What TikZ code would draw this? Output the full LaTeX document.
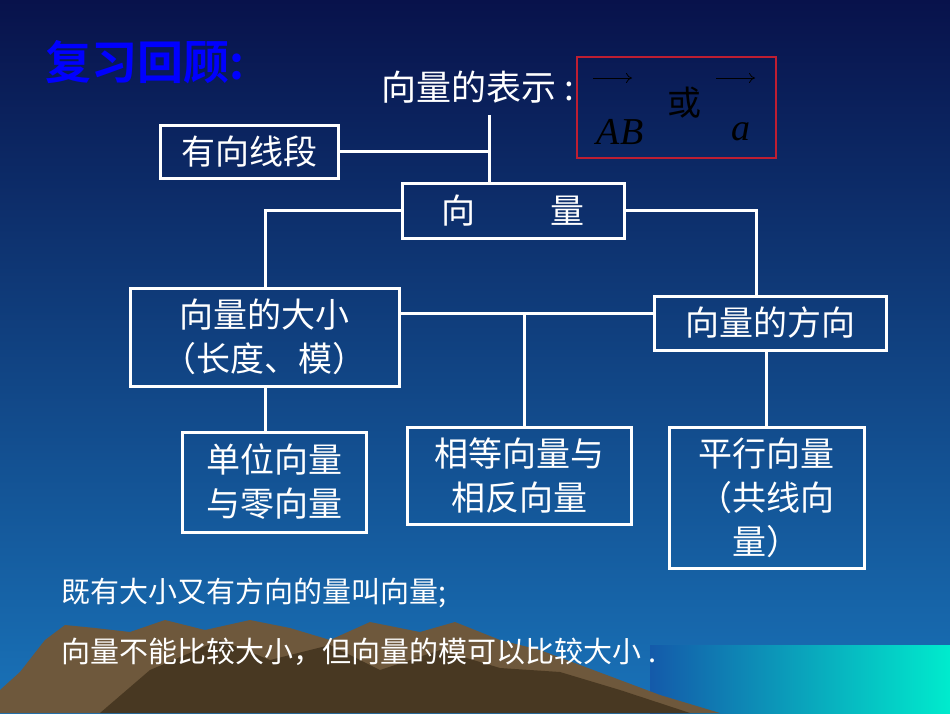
\documentclass[tikz,border=0pt]{standalone}
\usepackage{fontspec}
\newfontfamily\cjk{Noto Sans CJK SC}
\newfontfamily\cjkb{Noto Sans CJK SC Bold}
\newfontfamily\lati{Liberation Serif}
\usetikzlibrary{shadings,arrows.meta}
\definecolor{bgtop}{RGB}{8,18,75}
\definecolor{bgbot}{RGB}{25,115,185}
\definecolor{seal}{RGB}{20,90,170}
\definecolor{sear}{RGB}{0,235,205}
\definecolor{mnt}{RGB}{110,88,60}
\definecolor{mntd}{RGB}{72,56,34}
\definecolor{ttl}{RGB}{0,0,255}
\definecolor{rbox}{RGB}{190,30,50}
\begin{document}
\begin{tikzpicture}[x=1pt,y=-1pt,
  bx/.style={draw=white,line width=3pt,text=white,font=\cjk\fontsize{34}{44}\selectfont,align=center,inner sep=0pt},
  ln/.style={white,line width=3pt}]
\useasboundingbox (0,0) rectangle (950,713);
\shade[top color=bgtop,bottom color=bgbot] (0,0) rectangle (950,713);
\shade[left color=seal,right color=sear] (650,645) rectangle (950,713);
\fill[mnt] (0,690) -- (20,672) -- (45,640) -- (65,625) -- (95,628) -- (130,632) -- (165,620) -- (205,630) -- (250,620) -- (290,628) -- (330,640) -- (370,622) -- (420,632) -- (455,622) -- (500,640) -- (540,650) -- (580,665) -- (620,680) -- (660,695) -- (720,713) -- (0,713) -- cycle;
\fill[mntd] (150,670) -- (220,640) -- (270,660) -- (330,645) -- (380,670) -- (440,650) -- (500,668) -- (560,672) -- (620,690) -- (690,713) -- (100,713) -- cycle;
\node[anchor=west,text=ttl,font=\cjkb\fontsize{46}{50}\selectfont] (title) at (42,62) {复习回顾:};
\node[text=white,font=\cjk\fontsize{35}{40}\selectfont] (rep) at (478,87) {向量的表示 :};
\draw[rbox,line width=1.2pt] (577,57) rectangle (776,158);
\node[text=black,font=\lati\itshape\fontsize{38}{40}\selectfont] (abl) at (620,132) {AB};
\node[text=black,font=\cjk\fontsize{34}{36}\selectfont] (huo) at (684,103) {或};
\node[text=black,font=\lati\itshape\fontsize{38}{40}\selectfont] (av) at (741,132) {a};
\draw[black,line width=0.8pt,-{To[length=6pt,width=10pt]}] (593,78) -- (632,78);
\draw[black,line width=0.8pt,-{To[length=6pt,width=10pt]}] (716,78) -- (755,78);
\node[bx,minimum width=178,minimum height=53] (dx) at (249,151.5) {有向线段};
\node[bx,minimum width=222,minimum height=55] (v) at (513,210.5) {向\hspace{2.2em}量};
\node[bx,minimum width=269,minimum height=98] (dxx) at (264.5,337) {向量的大小\\（长度、模）};
\node[bx,minimum width=232,minimum height=54] (fx) at (770,323) {向量的方向};
\node[bx,minimum width=184,minimum height=100] (dw) at (274,482) {单位向量\\与零向量};
\node[bx,minimum width=224,minimum height=97] (xd) at (519,475.5) {相等向量与\\相反向量};
\node[bx,minimum width=195,minimum height=141] (px) at (766.5,497.5) {平行向量\\（共线向\\量）};
\coordinate (t) at (489,115);
\draw[ln] (t) -- (v.north -| t);
\draw[ln] (dx.east) -- (dx.east -| t);
\draw[ln] (v.west) -| (dxx.north -| 265,0);
\draw[ln] (v.east) -| (fx.north -| 756,0);
\draw[ln] (dxx.east |- 0,313) -- (fx.west |- 0,313);
\draw[ln] (524,313) -- (xd.north -| 524,0);
\draw[ln] (dxx.south -| 265,0) -- (dw.north -| 265,0);
\draw[ln] (fx.south -| 766,0) -- (px.north -| 766,0);
\node[anchor=west,text=white,font=\cjk\fontsize{29}{32}\selectfont] (s1) at (58,593) {既有大小又有方向的量叫向量;};
\node[anchor=west,text=white,font=\cjk\fontsize{29}{32}\selectfont] (s2) at (58,652) {向量不能比较大小，但向量的模可以比较大小 .};
\end{tikzpicture}
\end{document}
